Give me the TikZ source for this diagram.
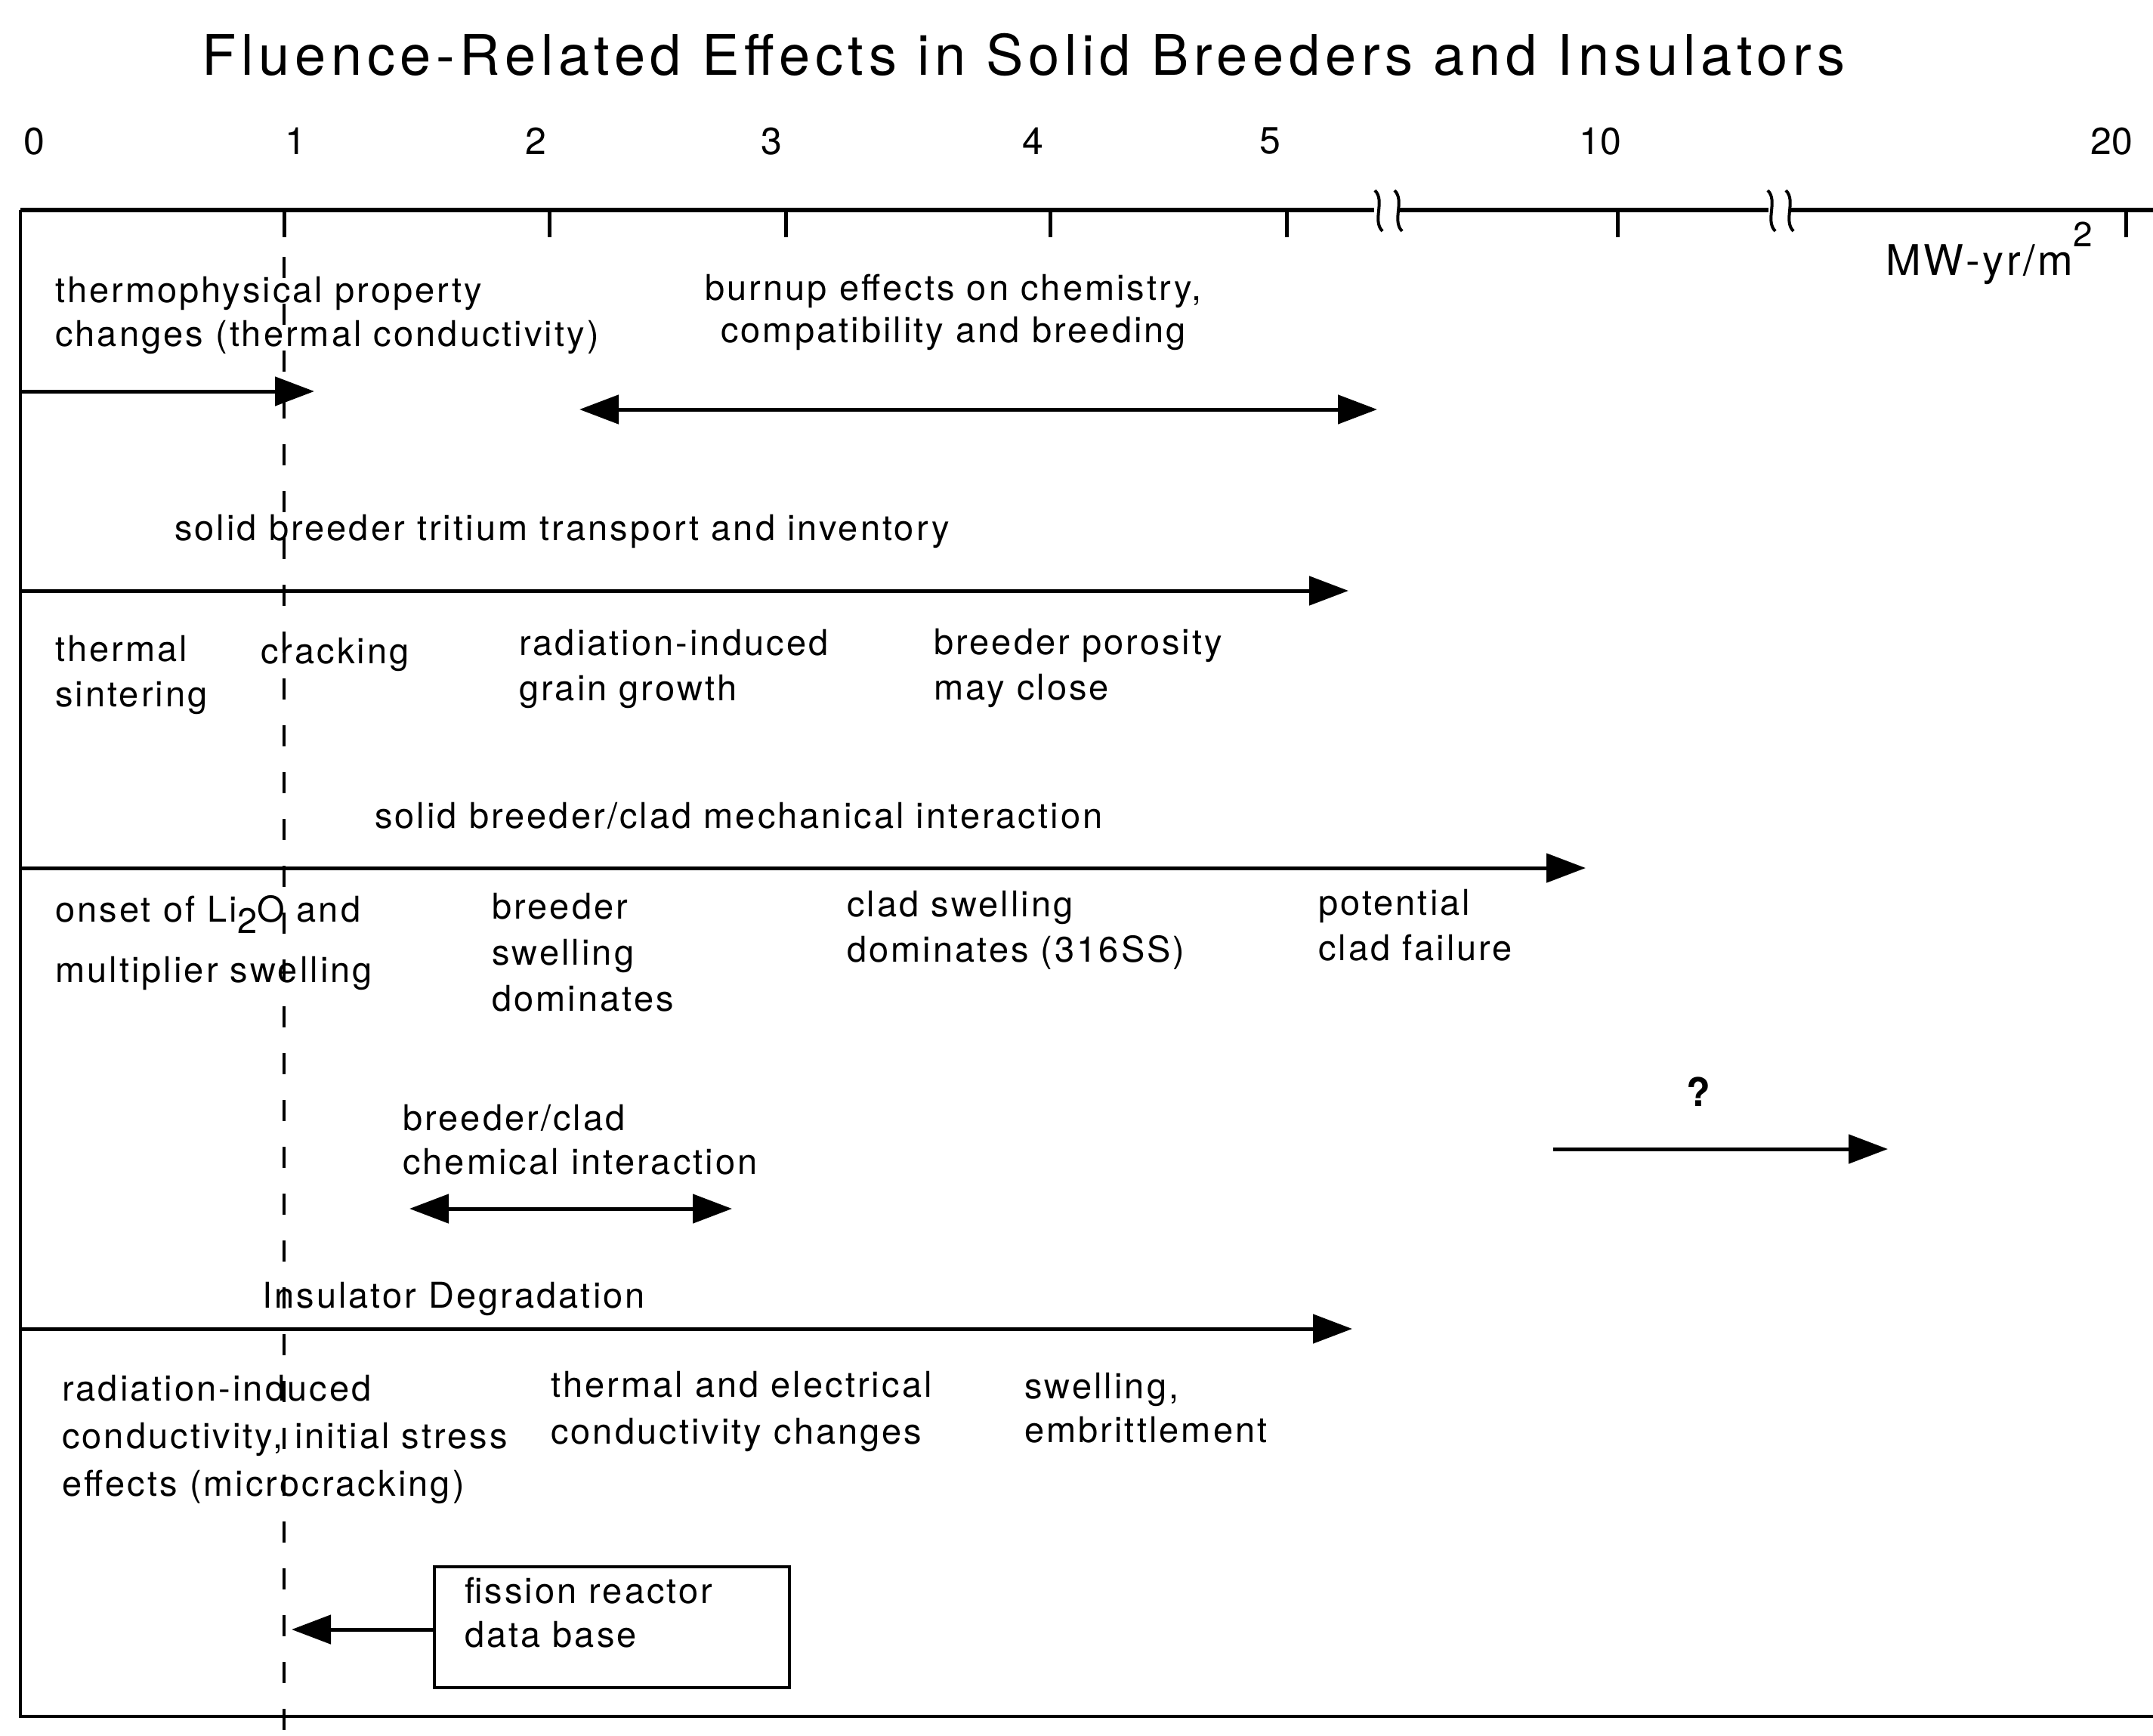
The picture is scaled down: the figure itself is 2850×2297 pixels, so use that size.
\documentclass[tikz,border=0pt]{standalone}
\usepackage{fontspec}
\setmainfont{TeX Gyre Heros}[LetterSpace=6.5]
\newfontfamily\titlefont{TeX Gyre Heros}[LetterSpace=9]
\newfontfamily\numfont{TeX Gyre Heros}
\usetikzlibrary{arrows.meta}
\tikzset{
  lbl/.style={anchor=base west, align=left, inner sep=0pt, font=\fontsize{47}{58}\selectfont},
  num/.style={inner sep=0pt, font=\numfont\fontsize{50}{56}\selectfont},
  axisline/.style={line width=6pt},
  frameline/.style={line width=4pt},
  tickmark/.style={line width=5pt},
  brk/.style={line width=4pt},
  dashln/.style={line width=4pt, dash pattern=on 28pt off 34pt},
  arr/.style={line width=5pt, -{Triangle[length=52pt,width=38pt]}},
  darr/.style={line width=5pt, {Triangle[length=52pt,width=38pt]}-{Triangle[length=52pt,width=38pt]}},
  boxst/.style={draw, line width=4pt, anchor=north west, inner xsep=40pt, inner ysep=14pt, font=\fontsize{47}{58}\selectfont}
}
\begin{document}
\begin{tikzpicture}[x=1pt,y=-1pt]
\path[use as bounding box, fill=white] (0,0) rectangle (2850,2297);

% title
\node[inner sep=0pt, font={\titlefont\fontsize{74}{80}\selectfont}] (title) at (1355,73) {Fluence-Related Effects in Solid Breeders and Insulators};

% scale labels
\foreach \x/\t [count=\i] in {45/0,391/1,709/2,1021/3,1367/4,1681/5,2118/10,2795/20}
  \node[num] (n\i) at (\x,187) {\t};

% axis
\coordinate (ax0) at (27,278);
\coordinate (ax1) at (1819,278);
\coordinate (ax2) at (1852,278);
\coordinate (ax3) at (2341,278);
\coordinate (ax4) at (2370,278);
\coordinate (ax5) at (2850,278);
\draw[axisline] (ax0) -- (ax1);
\draw[axisline] (ax2) -- (ax3);
\draw[axisline] (ax4) -- (ax5);
\foreach \b in {1825,1851,2345,2369}
  \draw[brk] (\b-5,252) .. controls (\b+9,266) and (\b-9,292) .. (\b+5,306);
\foreach \x in {376,727,1040,1390,1703,2141,2814}
  \draw[tickmark] (\x,278) -- (\x,314);
\node[lbl, font=\fontsize{56}{60}\selectfont] (unit) at (2496,364) {MW-yr/m\raisebox{38pt}{\fontsize{46}{46}\selectfont 2}};

% frame and dashed line at 1 MW-yr/m2
\coordinate (fb) at (27,2272);
\coordinate (fr) at (2850,2272);
\draw[frameline] (ax0) -- (fb) -- (fr);
\coordinate (d0) at (376,278);
\coordinate (d1) at (376,2297);
\draw[dashln] (d0) -- (d1);

% row 1
\node[lbl] (thermo) at (73,458) {thermophysical property\\changes (thermal conductivity)};
\node[anchor=base, align=center, inner sep=0pt, font=\fontsize{47}{56}\selectfont] (burnup) at (1262,453) {burnup effects on chemistry,\\compatibility and breeding};
\coordinate (a1s) at (27,518);
\coordinate (a1e) at (416,518);
\draw[arr] (a1s) -- (a1e);
\coordinate (a2s) at (767,542);
\coordinate (a2e) at (1823,542);
\draw[darr] (a2s) -- (a2e);

% row 2
\node[lbl] (tritium) at (231,715) {solid breeder tritium transport and inventory};
\coordinate (a3s) at (27,782);
\coordinate (a3e) at (1785,782);
\draw[arr] (a3s) -- (a3e);

% row 3
\node[lbl, font=\fontsize{47}{60}\selectfont] (sinter) at (73,935) {thermal\\sintering};
\node[lbl] (crack) at (345,878) {cracking};
\node[lbl, font=\fontsize{47}{60}\selectfont] (grain) at (687,927) {radiation-induced\\grain growth};
\node[lbl, font=\fontsize{47}{60}\selectfont] (poros) at (1236,926) {breeder porosity\\may close};
\node[lbl] (mech) at (496,1096) {solid breeder/clad mechanical interaction};
\coordinate (a4s) at (27,1149);
\coordinate (a4e) at (2099,1149);
\draw[arr] (a4s) -- (a4e);

% row 4
\node[lbl] (onset) at (73,1300) {onset of Li\raisebox{-15pt}{2}O and\\[22pt]multiplier swelling};
\node[lbl, font=\fontsize{47}{61}\selectfont] (bswell) at (651,1338) {breeder\\swelling\\dominates};
\node[lbl, font=\fontsize{47}{60}\selectfont] (cswell) at (1121,1273) {clad swelling\\dominates (316SS)};
\node[lbl, font=\fontsize{47}{60}\selectfont] (fail) at (1745,1271) {potential\\clad failure};
\node[lbl] (chem) at (533,1554) {breeder/clad\\chemical interaction};
\coordinate (a5s) at (542,1600);
\coordinate (a5e) at (969,1600);
\draw[darr] (a5s) -- (a5e);
\node[inner sep=0pt, font=\bfseries\fontsize{52}{58}\selectfont] (q) at (2248,1445) {?};
\coordinate (a6s) at (2056,1521);
\coordinate (a6e) at (2499,1521);
\draw[arr] (a6s) -- (a6e);
\node[lbl] (insul) at (347,1731) {Insulator Degradation};
\coordinate (a7s) at (27,1759);
\coordinate (a7e) at (1790,1759);
\draw[arr] (a7s) -- (a7e);

% row 5
\node[lbl, font=\fontsize{47}{63}\selectfont] (ric) at (82,1980) {radiation-induced\\conductivity, initial stress\\effects (microcracking)};
\node[lbl, font=\fontsize{47}{62}\selectfont] (tec) at (729,1911) {thermal and electrical\\conductivity changes};
\node[lbl, font=\fontsize{47}{58}\selectfont] (embr) at (1356,1909) {swelling,\\embrittlement};

\node[boxst] (fission) at (573,2072) {\parbox[t][132pt][t]{390pt}{\raggedright fission reactor\\data base}};
\coordinate (a8e) at (386,2157);
\draw[arr] (fission.west |- a8e) -- (a8e);
\end{tikzpicture}
\end{document}
